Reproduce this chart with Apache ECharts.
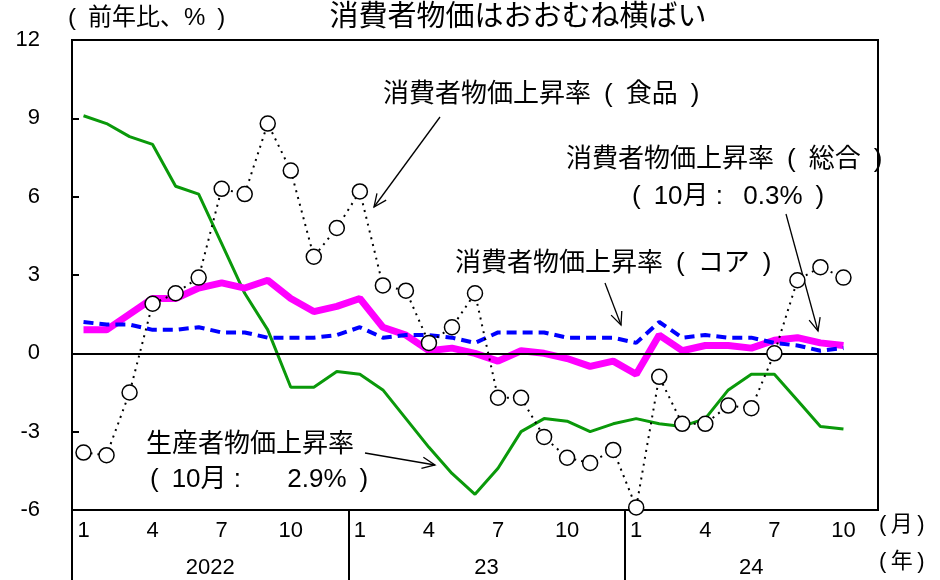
<!DOCTYPE html>
<html>
<head>
<meta charset="utf-8">
<script src="https://cdn.jsdelivr.net/npm/echarts@6/dist/echarts.min.js"></script>
<style>
html,body{margin:0;padding:0;background:#fff;}
#chart{width:940px;height:580px;}
</style>
</head>
<body>
<div id="chart"></div>
<script>
// ---- data ----
const months = [
  '2022-01','2022-02','2022-03','2022-04','2022-05','2022-06','2022-07','2022-08','2022-09','2022-10','2022-11','2022-12',
  '2023-01','2023-02','2023-03','2023-04','2023-05','2023-06','2023-07','2023-08','2023-09','2023-10','2023-11','2023-12',
  '2024-01','2024-02','2024-03','2024-04','2024-05','2024-06','2024-07','2024-08','2024-09','2024-10','2024-11'
];
const yearLabels = ['2022', '23', '24'];
const ppi  = [9.1,8.8,8.3,8.0,6.4,6.1,4.2,2.3,0.9,-1.3,-1.3,-0.7, -0.8,-1.4,-2.5,-3.6,-4.6,-5.4,-4.4,-3.0,-2.5,-2.6,-3.0,-2.7, -2.5,-2.7,-2.8,-2.5,-1.4,-0.8,-0.8,-1.8,-2.8,-2.9];
const cpi  = [0.9,0.9,1.5,2.1,2.1,2.5,2.7,2.5,2.8,2.1,1.6,1.8, 2.1,1.0,0.7,0.1,0.2,0.0,-0.3,0.1,0.0,-0.2,-0.5,-0.3, -0.8,0.7,0.1,0.3,0.3,0.2,0.5,0.6,0.4,0.3];
const core = [1.2,1.1,1.1,0.9,0.9,1.0,0.8,0.8,0.6,0.6,0.6,0.7, 1.0,0.6,0.7,0.7,0.6,0.4,0.8,0.8,0.8,0.6,0.6,0.6, 0.4,1.2,0.6,0.7,0.6,0.6,0.4,0.3,0.1,0.2];
const food = [-3.8,-3.9,-1.5,1.9,2.3,2.9,6.3,6.1,8.8,7.0,3.7,4.8, 6.2,2.6,2.4,0.4,1.0,2.3,-1.7,-1.7,-3.2,-4.0,-4.2,-3.7, -5.9,-0.9,-2.7,-2.7,-2.0,-2.1,0.0,2.8,3.3,2.9];
const yTicks = {min: -6, max: 12, interval: 3};

// ---- derived ----
const FONT = '"Liberation Sans","Noto Sans CJK JP",sans-serif';
const SP = '\u2002';
const yearStarts = [];
const yearCenters = [];
const yearsSeen = [];
months.forEach((m, i) => {
  const y = m.slice(0, 4);
  if (yearsSeen.indexOf(y) < 0) { yearsSeen.push(y); yearStarts.push(i); }
});
yearStarts.forEach((s, k) => {
  const e = k + 1 < yearStarts.length ? yearStarts[k + 1] : months.length;
  yearCenters.push((s + e) / 2);
});

function txt(x, y, s, size, align) {
  return {type: 'text', x: x, y: y, silent: true,
    style: {text: s, fontSize: size, fontFamily: FONT, fill: '#000', align: align || 'left', verticalAlign: 'middle'}};
}
function arrow(x1, y1, x2, y2) {
  const a = Math.atan2(y2 - y1, x2 - x1);
  const L = 14, w = 0.42;
  const p1 = [x2 - L * Math.cos(a - w), y2 - L * Math.sin(a - w)];
  const p2 = [x2 - L * Math.cos(a + w), y2 - L * Math.sin(a + w)];
  return [
    {type: 'line', silent: true, shape: {x1: x1, y1: y1, x2: x2, y2: y2}, style: {stroke: '#000', lineWidth: 1.3}},
    {type: 'polyline', silent: true, shape: {points: [p1, [x2, y2], p2]}, style: {stroke: '#000', lineWidth: 1.3, fill: null}}
  ];
}

const chart = echarts.init(document.getElementById('chart'), null, {renderer: 'canvas'});
const option = {
  animation: false,
  backgroundColor: '#fff',
  grid: {left: 72, right: 62, top: 40, bottom: 70, show: true, borderColor: '#000', borderWidth: 2, containLabel: false},
  xAxis: [
    {
      type: 'category', data: months, boundaryGap: true, position: 'bottom',
      axisLine: {show: true, lineStyle: {color: '#000', width: 2}},
      axisTick: {show: false},
      axisLabel: {
        interval: (i) => i % 3 === 0,
        formatter: (v) => String(parseInt(v.slice(5), 10)),
        fontSize: 22, color: '#000', margin: 10, fontFamily: FONT
      },
      splitLine: {show: false}
    },
    {
      type: 'value', min: 0, max: months.length, position: 'bottom',
      axisLine: {show: false},
      axisTick: {show: true, customValues: yearStarts, length: 70, lineStyle: {color: '#000', width: 2}},
      axisLabel: {
        customValues: yearCenters,
        formatter: (v) => { const k = yearCenters.indexOf(v); return k >= 0 ? yearLabels[k] : ''; },
        fontSize: 22, color: '#000', margin: 47, fontFamily: FONT
      },
      splitLine: {show: false}
    }
  ],
  yAxis: {
    type: 'value', min: yTicks.min, max: yTicks.max, interval: yTicks.interval,
    axisLine: {show: true, lineStyle: {color: '#000', width: 2}},
    axisTick: {show: true, inside: true, length: 7, lineStyle: {color: '#000', width: 2}},
    axisLabel: {fontSize: 22, color: '#000', margin: 32, fontFamily: FONT},
    splitLine: {show: false}
  },
  series: [
    {
      name: '生産者物価上昇率', type: 'line', data: ppi, xAxisIndex: 0, symbol: 'none',
      lineStyle: {color: '#0a990a', width: 3}, z: 2,
      markLine: {silent: true, symbol: 'none', label: {show: false},
        lineStyle: {color: '#000', width: 2, type: 'solid'}, data: [{yAxis: 0}]}
    },
    {
      name: '消費者物価上昇率（総合）', type: 'line', data: cpi, xAxisIndex: 0, symbol: 'none',
      lineStyle: {color: '#ff00ff', width: 7}, z: 3
    },
    {
      name: '消費者物価上昇率（コア）', type: 'line', data: core, xAxisIndex: 0, symbol: 'none',
      lineStyle: {color: '#0000ff', width: 4, type: [10, 6]}, z: 4
    },
    {
      name: '消費者物価上昇率（食品）', type: 'line', data: food, xAxisIndex: 0,
      symbol: 'circle', symbolSize: 15, showAllSymbol: true,
      itemStyle: {color: '#fff', borderColor: '#000', borderWidth: 1.5},
      lineStyle: {color: '#000', width: 2, type: [2, 5]}, z: 5
    }
  ],
  graphic: [
    txt(518, 18, '消費者物価はおおむね横ばい', 29, 'center'),
    txt(68, 18, '(' + SP + '前年比、%' + SP + ')', 24, 'left'),
    txt(383, 95, '消費者物価上昇率' + SP + '(' + SP + '食品' + SP + ')', 26, 'left'),
    txt(566, 160, '消費者物価上昇率' + SP + '(' + SP + '総合' + SP + ')', 26, 'left'),
    txt(632, 197, '(' + SP + '10月 : ' + SP + '0.3%' + SP + ')', 26, 'left'),
    txt(455, 264, '消費者物価上昇率' + SP + '(' + SP + 'コア' + SP + ')', 26, 'left'),
    txt(146, 445, '生産者物価上昇率', 26, 'left'),
    txt(150, 480, '(' + SP + '10月 : ' + SP + SP + SP + '2.9%' + SP + ')', 26, 'left'),
    txt(879, 525, '(' + '\u2009' + '月' + '\u2009' + ')', 22, 'left'),
    txt(879, 562, '(' + '\u2009' + '年' + '\u2009' + ')', 22, 'left')
  ].concat(
    arrow(440, 117, 374, 207),
    arrow(786, 214, 818, 331),
    arrow(605, 283, 621, 325),
    arrow(365, 453, 435, 465)
  )
};
chart.setOption(option);
</script>
</body>
</html>
